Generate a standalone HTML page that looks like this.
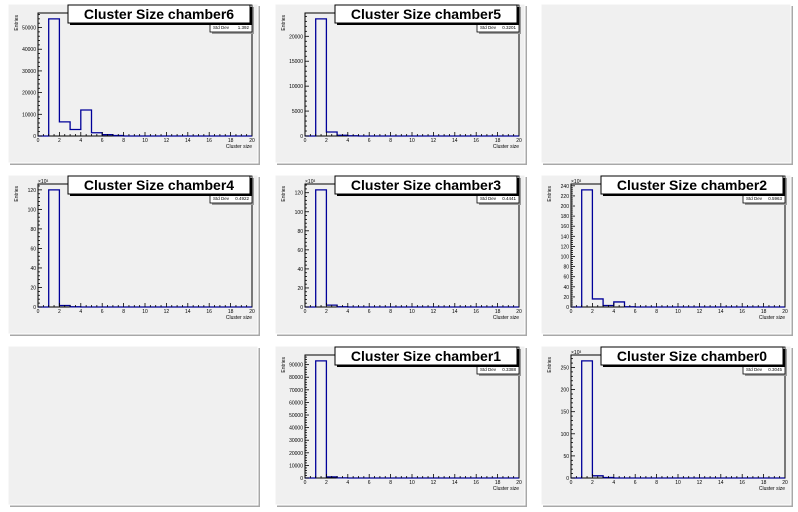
<!DOCTYPE html>
<html><head><meta charset="utf-8"><style>
body{margin:0;background:#fff;width:798px;height:512px;overflow:hidden;font-family:"Liberation Sans",sans-serif}
svg{display:block}
</style></head><body>
<svg id="c" width="798" height="512" viewBox="0 0 798 512" xmlns="http://www.w3.org/2000/svg"></svg>
<script>
const chambers = ["chamber6","chamber5",null,"chamber4","chamber3","chamber2",null,"chamber1","chamber0"];
const counts6 = [0,54000,6500,3000,12000,1500,600,200,0,0,0,0,0,0,0,0,0,0,0,0];
const counts5 = [0,23500,800,150,50,0,0,0,0,0,0,0,0,0,0,0,0,0,0,0];
const counts4 = [0,120,1.5,0.2,0,0,0,0,0,0,0,0,0,0,0,0,0,0,0,0];
const counts3 = [0,123,2,0.3,0,0,0,0,0,0,0,0,0,0,0,0,0,0,0,0];
const counts2 = [0,232,16,3,10,0.5,0,0,0,0,0,0,0,0,0,0,0,0,0,0];
const counts1 = [0,93000,900,100,0,0,0,0,0,0,0,0,0,0,0,0,0,0,0,0];
const counts0 = [0,265,5,1,0,0,0,0,0,0,0,0,0,0,0,0,0,0,0,0];
const stdDevs = {chamber6:"1.392",chamber5:"0.3201",chamber4:"0.4922",chamber3:"0.4441",chamber2:"0.5963",chamber1:"0.3388",chamber0:"0.3045"};
const yTickSteps = {chamber6:10000,chamber5:5000,chamber4:20,chamber3:20,chamber2:20,chamber1:10000,chamber0:50};
const scaled = {chamber6:false,chamber5:false,chamber4:true,chamber3:true,chamber2:true,chamber1:false,chamber0:true};
const seriesMap = {chamber6:counts6,chamber5:counts5,chamber4:counts4,chamber3:counts3,chamber2:counts2,chamber1:counts1,chamber0:counts0};
const xTicks = [0,2,4,6,8,10,12,14,16,18,20];

const NS="http://www.w3.org/2000/svg";
const svg=document.getElementById('c');
function mk(tag,attrs,parent){const e=document.createElementNS(NS,tag);for(const k in attrs)e.setAttribute(k,attrs[k]);(parent||svg).appendChild(e);return e;}

const colX=[8,275,541], rowY=[4,175,346];
chambers.forEach((ch,i)=>{
  const px=colX[i%3], py=rowY[Math.floor(i/3)];
  const g=mk('g',{});
  
  
  mk('rect',{x:px+2,y:py+2,width:250,height:159,fill:'#a8a8a8'},g);
  mk('rect',{x:px,y:py,width:250,height:159,fill:'#f0f0f0',stroke:'#ffffff','stroke-width':1},g);
  if(!ch) return;
  const data=seriesMap[ch];
  const L=px+30,R=px+244,T=py+9,B=py+132;
  const ymax=Math.max(...data)*1.05;
  const xs=v=>L+(v/20)*(R-L);
  const ys=v=>B-(v/ymax)*(B-T);
  mk('rect',{x:L,y:T,width:R-L,height:B-T,fill:'#f0f0f0',stroke:'#000','stroke-width':1},g);
  let d='M'+xs(0)+','+B;
  data.forEach((v,k)=>{d+=' L'+xs(k)+','+ys(v)+' L'+xs(k+1)+','+ys(v);});
  d+=' L'+xs(20)+','+B;
  const h=mk('path',{d:d,fill:'none',stroke:'#000099','stroke-width':1.3},g);
  
  
  for(let k=0;k<=40;k++){const x=xs(k*0.5);mk('line',{x1:x,y1:B,x2:x,y2:B-(k%4==0?4:2),stroke:'#000','stroke-width':0.8},g);}
  xTicks.forEach(t=>{const tx=mk('text',{x:xs(t),y:B+6,'font-size':5,'text-anchor':'middle',fill:'#000'},g);tx.textContent=t;
    
    });
  const xt=mk('text',{x:R,y:B+12,'font-size':5,'text-anchor':'end',fill:'#000'},g);xt.textContent='Cluster size';
  
  
  const step=yTickSteps[ch];
  for(let v=0;v<=ymax;v+=step/5){const y=ys(v);const major=Math.abs(v/step-Math.round(v/step))<1e-6;mk('line',{x1:L,y1:y,x2:L+(major?4:2),y2:y,stroke:'#000','stroke-width':0.8},g);}
  for(let v=0;v<=ymax;v+=step){const tx=mk('text',{x:L-2,y:ys(v)+2,'font-size':5,'text-anchor':'end',fill:'#000'},g);tx.textContent=v;
    
    }
  if(scaled[ch]){const s=mk('text',{x:L,y:T-1,'font-size':5,fill:'#000'},g);s.textContent='×10³';}
  const yt=mk('text',{x:px+10,y:T+2,'font-size':5,'text-anchor':'end',fill:'#000',transform:`rotate(-90 ${px+10} ${T+2})`},g);yt.textContent='Entries';
  
  
  const sb=mk('g',{},g);
  
  
  mk('rect',{x:R-40,y:py+3,width:42,height:27,fill:'#9a9a9a'},sb);
  mk('rect',{x:R-42,y:py+1,width:42,height:27,fill:'#fff',stroke:'#000','stroke-width':0.8},sb);
  const st=mk('text',{x:R-39,y:py+25,'font-size':4.5,fill:'#000'},sb);st.textContent='Std Dev';
  const sv=mk('text',{x:R-3,y:py+25,'font-size':4.5,'text-anchor':'end',fill:'#000'},sb);sv.textContent=stdDevs[ch];
  const tg=mk('g',{},g);
  
  
  mk('rect',{x:L+32,y:py+3,width:R-L-32,height:18,fill:'#000'},tg);
  mk('rect',{x:L+30,y:py+1,width:R-L-32,height:18,fill:'#fff',stroke:'#000','stroke-width':1},tg);
  const tt=mk('text',{x:L+30+(R-L-32)/2,y:py+15,'font-size':14,'font-weight':'bold','text-anchor':'middle',fill:'#000'},tg);tt.textContent='Cluster Size '+ch;
});
</script>
</body></html>
